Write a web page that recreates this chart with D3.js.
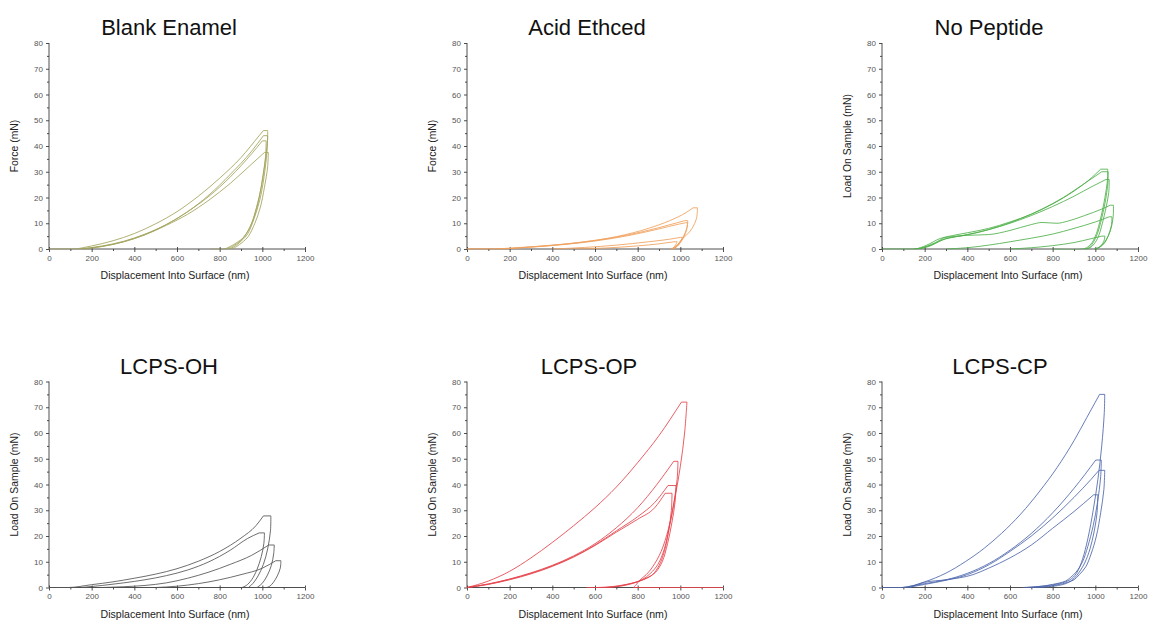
<!DOCTYPE html>
<html>
<head>
<meta charset="utf-8">
<script src="https://cdn.jsdelivr.net/npm/d3@7"></script>
<style>
  body { margin: 0; background: #fff; }
  svg { font-family: "Liberation Sans", Arial, sans-serif; }
  .axis path, .axis line { stroke: #3a3a3a; stroke-width: 0.9px; }
  .axis text { font-size: 8px; fill: #555; }
</style>
</head>
<body>
<svg id="chart" width="1149" height="621"></svg>
<script>

// load-displacement loops, [displacement nm, load mN]
// each loop: loading -> hold at peak -> unloading
var blankEnamel = [
  [[0,0],[110,0],[200,1.2],[300,3.2],[400,6],[500,9.8],[600,14.5],[700,20.5],[800,27.5],[900,35.5],[985,44],[1005,46],[1025,46],[1024,42],[1012,33],[995,24],[972,16],[945,9],[912,4.5],[880,2.5],[850,1],[820,0],[760,0]],
  [[140,0],[250,1.2],[350,3],[450,5.8],[550,9.5],[650,14.5],[750,21],[850,29],[950,38],[1005,44],[1025,44],[1022,38],[1008,28],[988,19],[962,12],[932,6],[900,3],[870,1],[845,0]],
  [[150,0],[250,1],[350,2.8],[450,5.6],[550,9.5],[650,14.5],[750,20.5],[850,28],[950,37],[1000,42],[1018,42],[1015,36],[1000,27],[980,18],[955,11],[925,6],[895,3],[860,1],[830,0]],
  [[160,0],[250,1],[350,2.8],[450,5.5],[550,9.2],[650,13.5],[750,19],[850,25.5],[950,33],[1010,37.5],[1028,37.5],[1025,32],[1010,24],[990,16],[965,10],[935,5],[905,2.5],[880,1],[860,0]]
];

var acidEtched = [
  [[0,0],[100,0],[250,0.6],[400,1.5],[550,2.8],[700,4.8],[850,8],[950,11],[1030,14.3],[1060,16],[1080,16],[1076,12],[1055,8],[1030,5.5],[1010,4],[990,2],[970,0.5],[955,0]],
  [[0,0],[150,0],[300,0.8],[450,1.8],[600,3.3],[750,5.4],[900,8.3],[990,10.3],[1020,11],[1035,11],[1030,8],[1015,5],[1000,3],[985,1.2],[965,0]],
  [[150,0],[300,0.7],[450,1.7],[600,3.1],[750,5.1],[900,7.8],[990,9.6],[1025,10.2],[1035,10.2],[1028,7],[1012,4],[995,2],[975,0.5],[955,0]],
  [[400,0],[550,0.6],[700,1.5],[850,2.8],[950,3.8],[1000,4.5],[1010,4.5],[1000,2.5],[985,1],[970,0]],
  [[500,0],[650,0.4],[800,1.2],[900,2],[970,2.8],[985,2.8],[975,1.2],[960,0]]
];

var noPeptide = [
  [[0,0],[150,0],[210,1.5],[270,4],[330,5.2],[400,6.3],[500,8],[600,10.5],[700,13.5],[800,17.5],[900,22.5],[980,27.5],[1025,31],[1058,31],[1057,27],[1045,20],[1025,12],[1005,6],[985,2.5],[965,0.8],[940,0],[800,0]],
  [[150,0],[220,1],[280,3.5],[350,4.8],[450,6.5],[550,8.8],[650,11.8],[750,15.5],[850,20],[950,25.5],[1030,30],[1060,30],[1059,26],[1048,19],[1030,12],[1010,6],[990,2.5],[970,0.5],[950,0]],
  [[160,0],[230,1.5],[300,4],[400,5.5],[500,7.5],[600,10],[700,13],[800,16.5],[900,20.5],[990,24.5],[1050,27],[1065,27],[1063,22],[1050,16],[1033,10],[1015,5],[995,2],[975,0.5],[955,0]],
  [[180,0],[250,2.5],[300,4.5],[400,5.3],[500,5.6],[600,7.2],[700,9.5],[750,10.3],[820,10],[870,10.8],[950,13],[1030,15.5],[1070,17],[1085,17],[1083,12],[1070,7],[1050,3.5],[1025,1],[1000,0]],
  [[300,0],[400,0.5],[500,1.5],[600,2.8],[700,4.2],[800,5.8],[900,8],[1000,10.5],[1065,12.5],[1078,12.5],[1075,9],[1060,5],[1040,2],[1015,0.5],[995,0]],
  [[600,0],[700,0.5],[800,1.3],[900,2.5],[980,4],[1030,5],[1045,5],[1040,3],[1025,1.2],[1005,0]]
];

var lcpsOH = [
  [[0,0],[90,0],[200,1.1],[300,2.2],[400,3.6],[500,5.2],[600,7.3],[700,10.2],[800,14],[900,19.2],[970,24],[1005,27.8],[1040,27.8],[1038,22],[1025,15],[1005,9],[980,4.5],[955,1.5],[935,0]],
  [[150,0],[250,0.8],[350,1.8],[450,3],[550,4.6],[650,6.8],[750,10],[850,14.5],[930,19],[985,21.2],[1010,21.2],[1007,17],[995,12],[975,7],[950,3],[925,0.8],[905,0]],
  [[250,0],[350,0.3],[450,0.8],[550,1.8],[650,3.6],[750,6],[850,9],[950,12.5],[1030,16.5],[1056,16.5],[1053,13],[1042,8.5],[1022,4.5],[998,1.5],[975,0]],
  [[500,0],[600,0.5],[700,1.5],[800,3],[900,5],[1000,7.5],[1063,10.4],[1087,10.4],[1084,7.5],[1070,4.5],[1052,2],[1035,0.5],[1020,0]]
];

var lcpsOP = [
  [[0,0],[100,2.5],[200,6.3],[300,11.5],[400,17.5],[500,24],[600,31],[700,39],[800,48.5],[900,59],[1005,72],[1031,72],[1020,60],[1000,47],[975,35],[945,23],[910,14],[870,8],[840,5],[812,3],[792,1],[780,0]],
  [[0,0],[100,1.4],[200,3.3],[300,5.7],[400,8.6],[500,12.3],[600,17],[700,23.2],[800,31],[890,40],[969,49],[989,49],[985,42],[970,33],[950,24],[925,15],[895,9],[860,5.5],[820,3],[760,1.2],[700,0.3],[650,0]],
  [[0,0],[100,1.3],[200,3.2],[300,5.5],[400,8.4],[500,12],[600,16.5],[700,22],[800,27.5],[880,33],[942,39.6],[980,39.6],[975,33],[960,25],[940,17],[915,10],[885,6],[850,4],[800,2.3],[740,1],[680,0.2],[600,0]],
  [[0,0],[100,1.2],[200,3],[300,5.3],[400,8.2],[500,11.8],[600,16.3],[700,21.5],[800,26.5],[880,31],[929,36.6],[961,36.6],[958,30],[945,22],[925,14],[900,8.5],[870,5],[840,3.5],[790,2],[720,0.8],[650,0.1],[560,0]],
  [[780,0],[1200,0]]
];

var lcpsCP = [
  [[0,0],[90,0],[200,2.2],[300,5.6],[390,10],[480,15.3],[560,21],[650,28.5],[740,37.5],[820,46.5],[900,57],[960,66],[1000,72],[1020,75],[1044,75],[1042,68],[1030,55],[1012,42],[990,30],[965,19],[940,11],[915,6],[890,3.5],[860,2.2],[800,1],[720,0.3],[660,0]],
  [[100,0],[200,1.5],[300,3],[400,5.5],[505,9.5],[600,14.5],[700,21],[800,29],[900,38.5],[1002,49.5],[1028,49.5],[1025,43],[1010,33],[990,24],[965,16],[940,10],[910,6],[885,4],[860,2.5],[800,1.2],[740,0.4],[680,0]],
  [[120,0],[200,1.2],[300,2.8],[400,5],[505,9],[600,14],[700,20],[800,27],[900,35],[980,42],[1017,45.5],[1044,45.5],[1040,38],[1025,29],[1005,20],[980,13],[955,8],[925,5],[900,3],[870,2],[820,1],[760,0.3],[700,0]],
  [[130,0],[200,2],[300,3],[427,5],[500,7.5],[600,11.5],[700,16.5],[800,23],[900,29.5],[992,36],[1012,36],[1008,29],[995,22],[975,15],[950,9.5],[925,6],[900,3.5],[875,2],[840,1],[780,0.3],[720,0]]
];

var xTicks = [0, 200, 400, 600, 800, 1000, 1200];
var yTicks = [0, 10, 20, 30, 40, 50, 60, 70, 80];

var panels = [
  {title: "Blank Enamel", ylabel: "Force (mN)", color: "#a2a35a", curves: blankEnamel, left: 49, top: 43, tx: 120},
  {title: "Acid Ethced", ylabel: "Force (mN)", color: "#f0a05c", curves: acidEtched, left: 467, top: 43, tx: 120},
  {title: "No Peptide", ylabel: "Load On Sample (mN)", color: "#4fb04a", curves: noPeptide, left: 882, top: 43, tx: 107},
  {title: "LCPS-OH", ylabel: "Load On Sample (mN)", color: "#555555", curves: lcpsOH, left: 49, top: 381.5, tx: 120},
  {title: "LCPS-OP", ylabel: "Load On Sample (mN)", color: "#e5434b", curves: lcpsOP, left: 467, top: 381.5, tx: 122},
  {title: "LCPS-CP", ylabel: "Load On Sample (mN)", color: "#4f67ad", curves: lcpsCP, left: 882, top: 381.5, tx: 118}
];

var width = 256, height = 206;
var svg = d3.select('#chart');

panels.forEach(function(p, i){

  var g = svg.append('g')
    .attr('transform', 'translate(' + p.left + ',' + p.top + ')');

  var x = d3.scaleLinear().domain([0, 1200]).range([0, width]);
  var y = d3.scaleLinear().domain([0, 80]).range([height, 0]);

  // minor ticks first
  g.append('g').attr('class', 'axis')
    .attr('transform', 'translate(0,' + height + ')')
    .call(d3.axisBottom(x).tickValues(d3.range(100, 1200, 200)).tickSize(2).tickFormat(''));
  g.append('g').attr('class', 'axis')
    .call(d3.axisLeft(y).tickValues(d3.range(5, 80, 10)).tickSize(2).tickFormat(''));

  // major ticks poke inside a little too
  g.append('g').attr('class', 'axis')
    .attr('transform', 'translate(0,' + height + ')')
    .call(d3.axisBottom(x).tickValues(xTicks).tickSize(-2).tickFormat(''));

  g.append('g').attr('class', 'axis')
    .attr('transform', 'translate(0,' + height + ')')
    .call(d3.axisBottom(x).tickValues(xTicks).tickSize(3).tickPadding(3).tickFormat(d3.format('d')));

  g.append('g').attr('class', 'axis')
    .call(d3.axisLeft(y).tickValues(yTicks).tickSize(3).tickPadding(3).tickFormat(d3.format('d')));

  g.selectAll('.axis path.domain').remove();
  g.append('line')
    .attr('x1', 0).attr('x2', width)
    .attr('y1', height).attr('y2', height)
    .attr('stroke', '#3a3a3a').attr('stroke-width', 0.9);
  g.append('line')
    .attr('x1', 0).attr('x2', 0)
    .attr('y1', 0).attr('y2', height)
    .attr('stroke', '#3a3a3a').attr('stroke-width', 0.9);

  g.append('clipPath').attr('id', 'clip' + i)
    .append('rect').attr('x', 0).attr('y', -5).attr('width', width + 5).attr('height', height + 5.5);

  var loading = d3.line()
    .x(function(d){ return x(d[0]); })
    .y(function(d){ return y(d[1]); })
    .curve(d3.curveMonotoneX);
  var unloading = d3.line()
    .x(function(d){ return x(d[0]); })
    .y(function(d){ return y(d[1]); })
    .curve(d3.curveCatmullRom.alpha(0.5));
  var straight = d3.line()
    .x(function(d){ return x(d[0]); })
    .y(function(d){ return y(d[1]); });

  // split a loop into loading, hold and unloading parts
  function loopPath(pts){
    var maxF = d3.max(pts, function(d){ return d[1]; });
    if(maxF === 0) return straight(pts);
    var i0 = pts.findIndex(function(d){ return d[1] === maxF; });
    var i1 = i0;
    while(i1 + 1 < pts.length && pts[i1 + 1][1] === maxF) i1++;
    return loading(pts.slice(0, i0 + 1)) + straight(pts.slice(i0, i1 + 1)) + unloading(pts.slice(i1));
  }

  g.append('g').attr('clip-path', 'url(#clip' + i + ')')
    .selectAll('path')
    .data(p.curves)
    .enter()
    .append('path')
    .attr('d', loopPath)
    .attr('fill', 'none')
    .attr('stroke', p.color)
    .attr('stroke-width', 1)
    .attr('stroke-linejoin', 'round')
    .attr('stroke-opacity', 0.85);

  // titles
  g.append('text')
    .attr('x', p.tx).attr('y', -8)
    .attr('text-anchor', 'middle')
    .style('font-size', '22px')
    .style('fill', '#111')
    .text(p.title);

  g.append('text')
    .attr('x', width / 2 - 2).attr('y', height + 30)
    .attr('text-anchor', 'middle')
    .style('font-size', '10.6px')
    .style('fill', '#222')
    .text('Displacement Into Surface (nm)');

  g.append('text')
    .attr('transform', 'translate(-31,' + (height / 2) + ') rotate(-90)')
    .attr('text-anchor', 'middle')
    .style('font-size', '10.4px')
    .style('fill', '#222')
    .text(p.ylabel);
});

</script>
</body>
</html>
